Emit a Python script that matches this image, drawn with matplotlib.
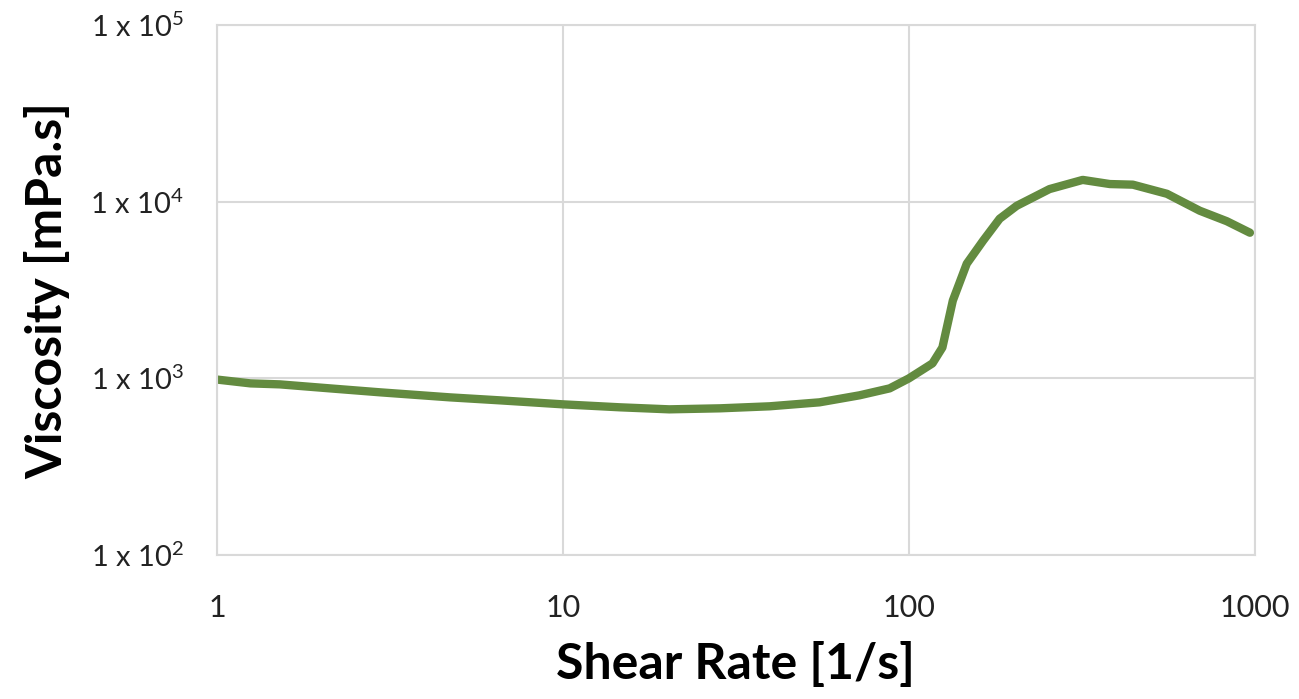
import matplotlib.pyplot as plt

plt.rcParams['font.family'] = ['Lato', 'DejaVu Sans']
plt.rcParams['mathtext.fontset'] = 'custom'
plt.rcParams['mathtext.rm'] = 'Lato'
plt.rcParams['mathtext.it'] = 'Lato'
plt.rcParams['mathtext.bf'] = 'Lato:bold'

# shear rate [1/s] and viscosity [mPa.s]
shear_rate = [1.0, 1.25, 1.52, 2.12, 2.96, 4.71, 6.58, 10.0, 14.6, 20.3, 28.5,
              39.6, 55.2, 72.0, 88.0, 100.0, 117.0, 125.0, 134.0, 147.0, 164.0,
              183.0, 205.0, 255.0, 318.0, 381.0, 444.0, 557.0, 693.0, 830.0, 968.0]
viscosity = [985, 937, 925, 878, 834, 781, 751, 713, 686, 668, 677,
             695, 732, 802, 878, 1000, 1216, 1496, 2760, 4460, 6030,
             8020, 9490, 11800, 13300, 12600, 12500, 11100, 8900, 7760, 6680]

x_ticks = [1, 10, 100, 1000]
x_labels = ['1', '10', '100', '1000']
y_ticks = [1e2, 1e3, 1e4, 1e5]
y_labels = [r'1 x 10$^{2}$', r'1 x 10$^{3}$', r'1 x 10$^{4}$', r'1 x 10$^{5}$']

fig = plt.figure(figsize=(12.99, 6.99), dpi=100)
ax = fig.add_axes([0.167, 0.206, 0.799, 0.758])

ax.plot(shear_rate, viscosity, color='#638b40', linewidth=6,
        solid_capstyle='round', solid_joinstyle='round')

ax.set_xscale('log')
ax.set_yscale('log')
ax.set_xlim(1, 1000)
ax.set_ylim(1e2, 1e5)
ax.set_xticks(x_ticks)
ax.set_xticklabels(x_labels)
ax.set_yticks(y_ticks)
ax.set_yticklabels(y_labels)
ax.minorticks_off()
ax.tick_params(length=0, labelsize=21, colors='#222222')
ax.tick_params(axis='x', labelsize=22, pad=28)
ax.tick_params(axis='y', pad=24)

ax.grid(True, color='#d9d9d9', linewidth=1.5)
for s in ax.spines.values():
    s.set_color('#d9d9d9')
    s.set_linewidth(1.5)

ax.set_xlabel('Shear Rate [1/s]', fontsize=36, fontweight='bold', labelpad=14)
ax.set_ylabel('Viscosity [mPa.s]', fontsize=36, fontweight='bold', labelpad=14)

fig.savefig('out.png', dpi=100)
